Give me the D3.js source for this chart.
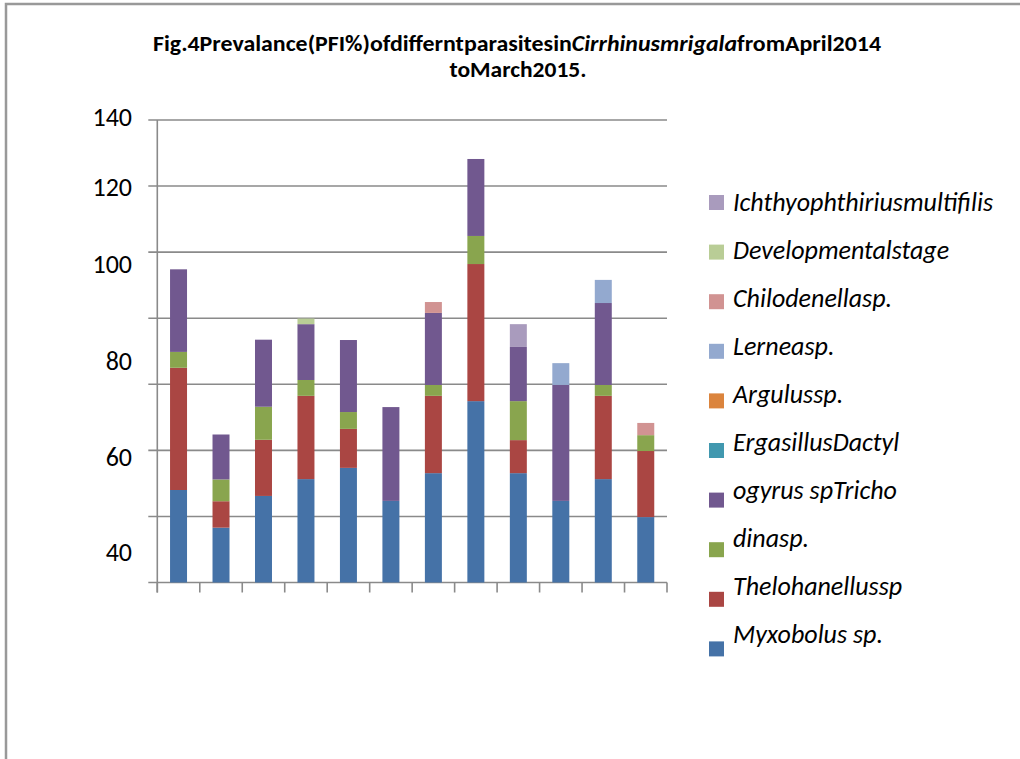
<!DOCTYPE html>
<html>
<head>
<meta charset="utf-8">
<script src="https://cdn.jsdelivr.net/npm/d3@7"></script>
<style>
  html, body { margin: 0; padding: 0; background: #fff; }
  svg { display: block; }
  text { font-family: Carlito, Calibri, "Open Sans", Lato, sans-serif; fill: #000; }
</style>
</head>
<body>
<svg id="chart" width="1020" height="759"></svg>
<script>
// Months sampled, April 2014 to March 2015
const months = ["Apr 2014", "May 2014", "Jun 2014", "Jul 2014", "Aug 2014", "Sep 2014",
                "Oct 2014", "Nov 2014", "Dec 2014", "Jan 2015", "Feb 2015", "Mar 2015"];

// Prevalence (%) per parasite, stacked bottom to top
const myxobolus     = [28.0, 16.6, 26.2, 31.3, 34.7, 24.7, 33.1, 54.9, 33.1, 24.7, 31.3, 19.8];
const thelohanellus = [37.0,  8.0, 17.0, 25.2, 11.8,  0.0, 23.4, 41.5, 10.0,  0.0, 25.2, 20.0];
const trichodina    = [ 4.8,  6.6, 10.0,  4.8,  5.1,  0.0,  3.3,  8.5, 11.8,  0.0,  3.3,  4.8];
const dactylogyrus  = [25.0, 13.6, 20.3, 16.9, 21.8, 28.4, 21.8, 23.3, 16.4, 35.1, 24.8,  0.0];
const ergasillus    = [ 0,    0,    0,    0,    0,    0,    0,    0,    0,    0,    0,    0  ];
const argulus       = [ 0,    0,    0,    0,    0,    0,    0,    0,    0,    0,    0,    0  ];
const lernea        = [ 0,    0,    0,    0,    0,    0,    0,    0,    0,    6.6,  7.0,  0  ];
const chilodenella  = [ 0,    0,    0,    0,    0,    0,    3.3,  0,    0,    0,    0,    3.7];
const devStage      = [ 0,    0,    0,    1.7,  0,    0,    0,    0,    0,    0,    0,    0  ];
const ichthyo       = [ 0,    0,    0,    0,    0,    0,    0,    0,    6.9,  0,    0,    0  ];

// Legend names as printed, in stacking order
const seriesNames = ["Myxobolus sp.", "Thelohanellussp", "dinasp.", "ogyrus spTricho",
                     "ErgasillusDactyl", "Argulussp.", "Lerneasp.", "Chilodenellasp.",
                     "Developmentalstage", "Ichthyophthiriusmultifilis"];
const seriesValues = [myxobolus, thelohanellus, trichodina, dactylogyrus, ergasillus,
                      argulus, lernea, chilodenella, devStage, ichthyo];
const seriesColors = ["#4572A7", "#AA4643", "#89A54E", "#71588F", "#4198AF",
                      "#DB843D", "#93A9CF", "#D19392", "#B9CD96", "#A99BBD"];

// Gridline values and the printed axis labels with where they sit on the scale
const gridValues  = [0, 20, 40, 60, 80, 100, 120, 140];
const axisLabels  = ["140", "120", "100", "80", "60", "40"];
const labelAnchor = [141, 119.7, 96.4, 67.1, 38.0, 9.2];

const svg = d3.select("#chart");

// outer frame (top and left edges visible)
svg.append("path")
  .attr("d", "M6,759 V4 H1020")
  .attr("fill", "none")
  .attr("stroke", "#999")
  .attr("stroke-width", 2.5);

// title
const title = svg.append("g").attr("font-weight", "bold").attr("font-size", 21.5);
const t1 = title.append("text")
  .attr("x", 517).attr("y", 51).attr("text-anchor", "middle")
  .attr("textLength", 728).attr("lengthAdjust", "spacingAndGlyphs");
t1.append("tspan").text("Fig.4Prevalance(PFI%)ofdifferntparasitesin");
t1.append("tspan").attr("font-style", "italic").text("Cirrhinusmrigala");
t1.append("tspan").text("fromApril2014");
title.append("text")
  .attr("x", 518).attr("y", 77).attr("text-anchor", "middle")
  .attr("textLength", 137).attr("lengthAdjust", "spacingAndGlyphs")
  .text("toMarch2015.");

// scales
const plot = { left: 157.3, right: 667, top: 120, bottom: 582.5 };
const x = d3.scaleBand().domain(months).range([plot.left, plot.right])
  .paddingInner(0.6).paddingOuter(0.3);
const y = d3.scaleLinear().domain([0, 140]).range([plot.bottom, plot.top]);

const gridColor = "#8a8a8a";

// horizontal gridlines with left tick stubs
svg.append("g").selectAll("line").data(gridValues).join("line")
  .attr("x1", plot.left - 9).attr("x2", plot.right)
  .attr("y1", d => y(d)).attr("y2", d => y(d))
  .attr("stroke", gridColor).attr("stroke-width", 1.6);

// vertical axis line
svg.append("line")
  .attr("x1", plot.left).attr("x2", plot.left)
  .attr("y1", y(140)).attr("y2", plot.bottom + 10)
  .attr("stroke", gridColor).attr("stroke-width", 1.6);

// category boundary ticks below the baseline
const step = x.step();
const edges = d3.range(months.length + 1).map(i => plot.left + i * step);
svg.append("g").selectAll("line").data(edges).join("line")
  .attr("x1", d => d).attr("x2", d => d)
  .attr("y1", plot.bottom).attr("y2", plot.bottom + 10)
  .attr("stroke", gridColor).attr("stroke-width", 1.6);

// axis labels
svg.append("g").selectAll("text").data(axisLabels).join("text")
  .attr("x", 132).attr("y", (d, i) => y(labelAnchor[i]))
  .attr("dy", "0.35em").attr("text-anchor", "end")
  .attr("font-size", 26)
  .text(d => d);

// stacked bars
const table = months.map((m, i) => {
  const row = { month: m };
  seriesNames.forEach((s, k) => { row[s] = seriesValues[k][i]; });
  return row;
});
const stacked = d3.stack().keys(seriesNames)(table);

svg.append("g").selectAll("g").data(stacked).join("g")
  .attr("fill", (d, k) => seriesColors[k])
  .selectAll("rect").data(d => d.filter(p => p[1] - p[0] > 0)).join("rect")
  .attr("x", p => x(p.data.month))
  .attr("width", x.bandwidth())
  .attr("y", p => y(p[1]))
  .attr("height", p => y(p[0]) - y(p[1]));

// legend: top entry is the last series
const legendOrder = d3.range(seriesNames.length).reverse();
const legend = svg.append("g");
legend.selectAll("rect").data(legendOrder).join("rect")
  .attr("x", 709).attr("y", (k, i) => 195 + i * 49.6)
  .attr("width", 15).attr("height", 15)
  .attr("fill", k => seriesColors[k]);
legend.selectAll("text").data(legendOrder).join("text")
  .attr("x", 733).attr("y", (k, i) => 210.7 + i * 48)
  .attr("font-size", 26).attr("font-style", "italic")
  .text(k => seriesNames[k]);
</script>
</body>
</html>
